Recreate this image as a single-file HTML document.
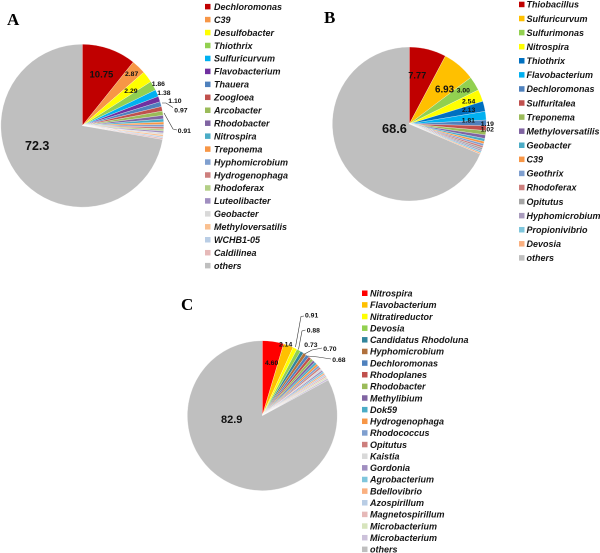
<!DOCTYPE html>
<html><head><meta charset="utf-8">
<style>
html,body{margin:0;padding:0;background:#fff;width:600px;height:553px;overflow:hidden}
svg{display:block}
.lg{font-family:"Liberation Sans",Arial,sans-serif;font-style:italic;font-weight:bold;font-size:9px;fill:#151515}
.lb{font-family:"Liberation Sans",Arial,sans-serif;font-weight:bold;fill:#111}
.tt{font-family:"Liberation Serif","Times New Roman",serif;font-weight:bold;font-size:17px;fill:#000}
</style></head>
<body>
<svg id="s" width="600" height="553" viewBox="0 0 600 553" xmlns="http://www.w3.org/2000/svg">
<rect width="600" height="553" fill="#fff"/>
<g id="pies"></g>
<g id="legs"></g>
<text class="tt" x="7" y="25">A</text>
<text class="tt" x="324" y="23">B</text>
<text class="tt" x="181" y="310">C</text>
<g id="labels">
<!-- A labels -->
<text class="lb" x="89.5" y="77.5" font-size="9.5" fill="#2a0000">10.75</text>
<text class="lb" x="125" y="75.8" font-size="6.8">2.87</text>
<text class="lb" x="124.3" y="93.2" font-size="6.8">2.29</text>
<text class="lb" x="151.7" y="85.8" font-size="6.8">1.86</text>
<text class="lb" x="157.3" y="94.8" font-size="6.8">1.38</text>
<text class="lb" x="168.3" y="103.2" font-size="6.8">1.10</text>
<text class="lb" x="174.3" y="112.5" font-size="6.8">0.97</text>
<text class="lb" x="177.7" y="133.2" font-size="6.8">0.91</text>
<text class="lb" x="25" y="150" font-size="12.5">72.3</text>
<polyline points="173,107.5 166,103 162,103" fill="none" stroke="#333" stroke-width="0.6"/>
<polyline points="177,130 173,129 164,113" fill="none" stroke="#333" stroke-width="0.6"/>
<!-- B labels -->
<text class="lb" x="408.3" y="78.3" font-size="9.2" fill="#2a0000">7.77</text>
<text class="lb" x="435" y="92.5" font-size="9.8">6.93</text>
<text class="lb" x="456.7" y="92.5" font-size="6.8">3.00</text>
<text class="lb" x="462" y="103.5" font-size="6.8">2.54</text>
<text class="lb" x="462" y="111.8" font-size="6.8">2.13</text>
<text class="lb" x="461.7" y="122.5" font-size="6.8">1.81</text>
<text class="lb" x="480.7" y="125.8" font-size="6.8">1.19</text>
<text class="lb" x="480.7" y="131.5" font-size="6.8">1.02</text>
<text class="lb" x="382" y="133" font-size="12.8">68.6</text>
<!-- C labels -->
<text class="lb" x="265" y="364.8" font-size="6.8">4.60</text>
<text class="lb" x="279" y="346.5" font-size="6.8">2.14</text>
<text class="lb" x="305" y="317.5" font-size="6.8">0.91</text>
<text class="lb" x="306.7" y="332.5" font-size="6.8">0.88</text>
<text class="lb" x="304.3" y="346.8" font-size="6.8">0.73</text>
<text class="lb" x="323.3" y="350.8" font-size="6.8">0.70</text>
<text class="lb" x="332.3" y="361.8" font-size="6.8">0.68</text>
<text class="lb" x="221" y="423" font-size="11">82.9</text>
<polyline points="304,316 301,316.5 295.5,347" fill="none" stroke="#333" stroke-width="0.6"/>
<polyline points="305.5,330 302,331 298.5,349.5" fill="none" stroke="#333" stroke-width="0.6"/>
<polyline points="322,348 312,350 304.5,354" fill="none" stroke="#333" stroke-width="0.6"/>
<polyline points="331,359 318,357 307.5,356" fill="none" stroke="#333" stroke-width="0.6"/>
</g>
</svg>
<script>
(function(){
var NS="http://www.w3.org/2000/svg";
var pies=document.getElementById("pies"), legs=document.getElementById("legs");
function el(n,a,p){var e=document.createElementNS(NS,n);for(var k in a)e.setAttribute(k,a[k]);p.appendChild(e);return e;}
function pie(cx,cy,r,vals,cols){
  var tot=0;vals.forEach(function(v){tot+=v;});
  var a=0;
  vals.forEach(function(v,i){
    var a0=a/tot*2*Math.PI; a+=v; var a1=a/tot*2*Math.PI;
    var x0=cx+r*Math.sin(a0),y0=cy-r*Math.cos(a0),x1=cx+r*Math.sin(a1),y1=cy-r*Math.cos(a1);
    var lg=(a1-a0)>Math.PI?1:0;
    el("path",{d:"M"+cx+" "+cy+" L"+x0.toFixed(2)+" "+y0.toFixed(2)+" A"+r+" "+r+" 0 "+lg+" 1 "+x1.toFixed(2)+" "+y1.toFixed(2)+" Z",
      fill:cols[i],stroke:"#fff","stroke-width":"0.3","stroke-linejoin":"round"},pies);
  });
}
function legend(sx,tx,y0,dy,names,cols){
  names.forEach(function(n,i){
    var y=y0+i*dy;
    el("rect",{x:sx,y:(y-2.8).toFixed(2),width:5.5,height:5.5,fill:cols[i]},legs);
    var t=el("text",{x:tx,y:(y+3.2).toFixed(2),"class":"lg"},legs);t.textContent=n;
  });
}
// A
var An=["Dechloromonas","C39","Desulfobacter","Thiothrix","Sulfuricurvum","Flavobacterium","Thauera","Zoogloea","Arcobacter","Rhodobacter","Nitrospira","Treponema","Hyphomicrobium","Hydrogenophaga","Rhodoferax","Luteolibacter","Geobacter","Methyloversatilis","WCHB1-05","Caldilinea","others"];
var Ac=["#C00000","#F79646","#FFFF00","#92D050","#00B0F0","#7030A0","#4F81BD","#C0504D","#9BBB59","#8064A2","#4BACC6","#F79646","#7F9FCF","#CD7F7D","#B3CF86","#A08EC0","#D9D9D9","#FAC090","#B9CDE5","#E6B9B8","#BFBFBF"];
var Av=[10.75,2.87,2.29,1.86,1.38,1.10,0.97,0.91,0.85,0.7,0.6,0.5,0.45,0.42,0.4,0.38,0.35,0.34,0.3,0.3,72.3];
pie(82.3,125.7,81.5,Av,Ac);
legend(205,214,6.7,12.95,An,Ac);
// B
var Bn=["Thiobacillus","Sulfuricurvum","Sulfurimonas","Nitrospira","Thiothrix","Flavobacterium","Dechloromonas","Sulfuritalea","Treponema","Methyloversatilis","Geobacter","C39","Geothrix","Rhodoferax","Opitutus","Hyphomicrobium","Propionivibrio","Devosia","others"];
var Bc=["#C00000","#FFC000","#92D050","#FFFF00","#0070C0","#00B0F0","#4F81BD","#C0504D","#9BBB59","#8064A2","#4BACC6","#F79646","#7F9FCF","#CD7F7D","#A5A5A5","#A99BBD","#7FC6DC","#FAB080","#BFBFBF"];
var Bv=[7.77,6.93,3.00,2.54,2.13,1.81,1.19,1.02,0.9,0.75,0.6,0.5,0.45,0.42,0.4,0.35,0.34,0.3,68.6];
pie(409.3,124,77,Bv,Bc);
legend(519,526.5,4.5,14.08,Bn,Bc);
// C
var Cn=["Nitrospira","Flavobacterium","Nitratireductor","Devosia","Candidatus Rhodoluna","Hyphomicrobium","Dechloromonas","Rhodoplanes","Rhodobacter","Methylibium","Dok59","Hydrogenophaga","Rhodococcus","Opitutus","Kaistia","Gordonia","Agrobacterium","Bdellovibrio","Azospirillum","Magnetospirillum","Microbacterium","Microbacterium","others"];
var Cc=["#FF0000","#FFC000","#FFFF00","#92D050","#31859C","#B0703C","#4F81BD","#C0504D","#9BBB59","#8064A2","#4BACC6","#F79646","#7F9FCF","#CD7F7D","#D9D9D9","#A08EC0","#7FC6DC","#FAB080","#B9CDE5","#E6B9B8","#D7E4BD","#CCC1DA","#BFBFBF"];
var Cv=[4.60,2.14,0.91,0.88,0.73,0.70,0.68,0.62,0.58,0.55,0.5,0.47,0.45,0.42,0.4,0.38,0.36,0.35,0.34,0.33,0.32,0.39,82.9];
pie(262.3,415.7,75,Cv,Cc);
legend(362,370,293.3,11.64,Cn,Cc);
})();
</script>
</body></html>
